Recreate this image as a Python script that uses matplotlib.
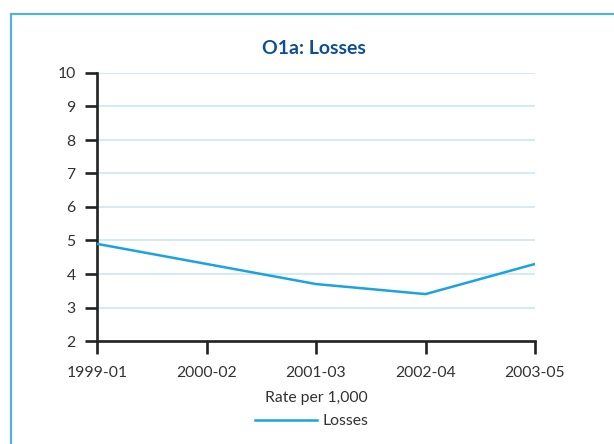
import matplotlib
matplotlib.use("Agg")
import matplotlib.pyplot as plt
from matplotlib.patches import Rectangle
from matplotlib.lines import Line2D

categories = ["1999-01", "2000-02", "2001-03", "2002-04", "2003-05"]
losses = [4.9, 4.3, 3.7, 3.4, 4.3]
yticks = [2, 3, 4, 5, 6, 7, 8, 9, 10]

plt.rcParams['font.family'] = ['Lato', 'DejaVu Sans']

W, H = 614, 444
fig = plt.figure(figsize=(W / 100, H / 100), dpi=100)
fig.patch.set_facecolor('white')

# outer frame
fig.patches.append(Rectangle((11 / W, -0.1), 1.2, (H - 14) / H + 0.1,
                             transform=fig.transFigure, fill=False,
                             edgecolor='#4fb3d6', linewidth=1.6))

ax = fig.add_axes([97 / W, (H - 341) / H, (535 - 97) / W, (341 - 73) / H])
x = list(range(len(categories)))
ax.plot(x, losses, color='#1aa3e0', linewidth=1.8, label='Losses', zorder=3,
        solid_joinstyle='miter')
ax.set_xlim(0, len(categories) - 1)
ax.set_ylim(2, 10)
ax.set_xticks(x)
ax.set_xticklabels(categories)
ax.set_yticks(yticks)
ax.yaxis.grid(True, color='#cce8f6', linewidth=1.2)
ax.set_axisbelow(True)
for s in ['top', 'right']:
    ax.spines[s].set_visible(False)
for s in ['left', 'bottom']:
    ax.spines[s].set_linewidth(1.9)
    ax.spines[s].set_color('#222222')
ax.tick_params(axis='both', length=9, width=1.9, color='#222222',
               labelsize=11.3, labelcolor='#333333')
ax.tick_params(axis='y', pad=6.5)
ax.tick_params(axis='x', pad=9)
ax.set_xlabel('Rate per 1,000', fontsize=11.3, color='#333333', labelpad=8)

fig.text(314 / W, (H - 48) / H, 'O1a: Losses', ha='center', va='center',
         fontsize=14, fontweight='bold', color='#0d4f96')

handle = Line2D([], [], color='#1aa3e0', linewidth=1.8)
fig.legend([handle], ['Losses'], loc='center', bbox_to_anchor=(312 / W, (H - 421) / H),
           frameon=False, fontsize=11.3, handlelength=3.9, handletextpad=0.4,
           labelcolor='#333333')

fig.savefig('out.png', dpi=100)
